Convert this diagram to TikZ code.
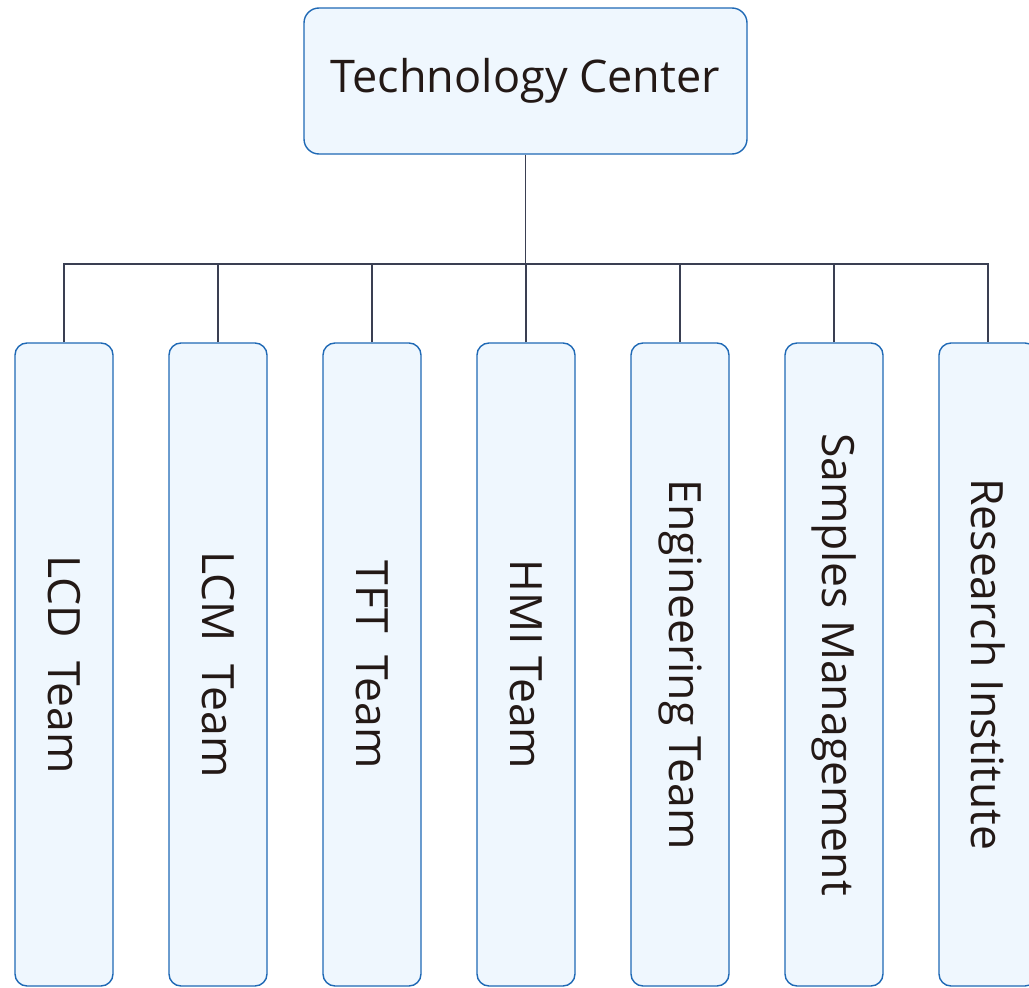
\documentclass[tikz,border=0pt]{standalone}
\usepackage{fontspec}
\setmainfont{Open Sans}
\definecolor{boxfill}{HTML}{EFF7FE}
\definecolor{boxline}{HTML}{1F69B5}
\definecolor{linkc}{HTML}{3A3F52}
\definecolor{txt}{HTML}{231916}
\begin{document}
\begin{tikzpicture}[x=1pt,y=-1pt,
  topbox/.style={draw=boxline,fill=boxfill,line width=1.4pt,rounded corners=15pt,minimum width=443pt,minimum height=146pt,inner sep=0pt,font=\fontsize{45}{50}\selectfont,text=txt},
  subbox/.style={draw=boxline,fill=boxfill,line width=1.4pt,rounded corners=12pt,minimum width=98pt,minimum height=643pt,inner sep=0pt},
  subtext/.style={rotate=-90,font=\fontsize{44.5}{50}\selectfont,text=txt},
  link/.style={draw=linkc,line width=1.4pt}]
\useasboundingbox (0,0) rectangle (1029,988);
\node[topbox] (top) at (525.5,81) {Technology Center};
\coordinate (bus) at (525.5,264);
\foreach \i/\x/\t in {1/64/{LCD\ \ Team},2/218/{LCM\ \ Team},3/372/{TFT\ \ Team},4/526/{HMI Team},5/680/{Engineering Team},6/834/{Samples Management},7/988/{Research Institute}}{
  \node[subbox] (b\i) at (\x,664.5) {};
  \node[subtext] (t\i) at (b\i.center) {\t};
}
\draw[link] (top.south) -- (bus);
\draw[link] (b1.north) |- (b7.north |- bus) -- (b7.north);
\foreach \i in {2,...,6}{\draw[link] (b\i.north) -- (b\i.north |- bus);}
\end{tikzpicture}
\end{document}
